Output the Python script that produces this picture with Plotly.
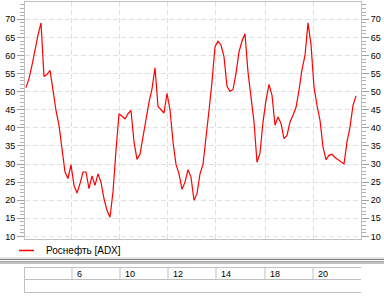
import plotly.graph_objects as go

# ADX values, evenly spaced samples
adx = [51.1, 53.6, 57.3, 61.6, 65.6, 69.0, 54.2, 54.8, 55.9, 50.4,
       44.8, 40.7, 34.7, 27.8, 26.0, 29.8, 24.1, 22.0, 24.6, 27.8,
       27.8, 23.2, 26.7, 24.1, 27.3, 25.0, 20.4, 17.2, 15.3, 22.3,
       33.8, 43.9, 43.2, 42.5, 43.9, 44.8, 36.1, 31.3, 32.7, 37.5,
       42.5, 47.1, 50.8, 56.6, 45.9, 45.0, 44.1, 49.5, 45.0, 36.1,
       29.9, 27.3, 23.0, 25.0, 28.4, 26.4, 20.0, 21.8, 27.3, 29.9,
       38.4, 44.8, 52.7, 62.4, 63.9, 62.9, 59.6, 51.5, 50.1, 50.6,
       55.0, 61.0, 64.0, 66.0, 55.4, 48.0, 41.6, 30.5, 33.0, 41.6,
       47.6, 52.0, 49.0, 40.7, 43.0, 41.2, 37.0, 37.9, 41.6, 43.5,
       45.6, 50.4, 56.1, 60.0, 69.0, 63.0, 51.3, 46.2, 42.1, 34.7,
       31.2, 32.4, 32.7, 31.8, 31.2, 30.5, 30.0, 36.1, 40.2, 46.2,
       48.8]
idx = list(range(len(adx)))

time_labels = ["6", "10", "12", "14", "18", "20"]
time_pos = [15.33, 31.33, 47.33, 63.33, 79.67, 95.67]
legend_name = "Роснефть [ADX]"

W, H = 384, 298
L, R, T, B = 25, 23, 2, 59
pw, ph = W - L - R, H - T - B

def px(x):
    return (x - L) / pw

def py(y):
    return (H - B - y) / ph

fig = go.Figure()
fig.add_trace(go.Scatter(x=idx, y=adx, mode="lines", name=legend_name,
                         line=dict(color="#ff0000", width=1.2),
                         showlegend=False, hoverinfo="skip"))
fig.add_trace(go.Scatter(x=idx, y=adx, mode="lines", yaxis="y2",
                         line=dict(color="rgba(0,0,0,0)", width=0),
                         showlegend=False, hoverinfo="skip"))

font = dict(family="Liberation Sans, Arial, sans-serif", size=9, color="#000000")
grid = dict(showgrid=True, gridcolor="#e0e0e0", griddash="5px,3px", gridwidth=1)

yax = dict(range=[9.28, 74.78], dtick=5, tick0=0, ticks="outside", ticklen=7,
           tickcolor="#a0a0a0", tickfont=font, showline=True, linecolor="#c0c0c0",
           linewidth=1, zeroline=False, fixedrange=True,
           minor=dict(dtick=1, ticks="outside", ticklen=4, tickcolor="#b0b0b0", showgrid=False),
           **grid)
fig.update_layout(
    width=W, height=H, margin=dict(l=L, r=R, t=T, b=B),
    paper_bgcolor="white", plot_bgcolor="white",
    xaxis=dict(range=[-0.333, 111.667], tickvals=time_pos, showticklabels=False,
               ticks="", showline=True, linecolor="#c0c0c0", mirror=True,
               zeroline=False, **grid),
    yaxis=yax,
    yaxis2=dict(overlaying="y", side="right", range=[9.28, 74.78], dtick=5, tick0=0,
                ticks="outside", ticklen=7, tickcolor="#a0a0a0", tickfont=font,
                showline=True, linecolor="#c0c0c0", showgrid=False, zeroline=False,
                minor=dict(dtick=1, ticks="outside", ticklen=4, tickcolor="#b0b0b0")),
    font=font,
)

shapes = []
# legend sample line
shapes.append(dict(type="line", xref="paper", yref="paper", x0=px(19), x1=px(34),
                   y0=py(250.5), y1=py(250.5), line=dict(color="#ff0000", width=1.5)))
# splitter
for yy, c in [(258, "#c8c8c8"), (259.5, "#808080"), (261.5, "#a8a8a8"), (263, "#808080")]:
    shapes.append(dict(type="line", xref="paper", yref="paper", x0=px(0), x1=px(384),
                       y0=py(yy), y1=py(yy), line=dict(color=c, width=1)))
# table
tc = "#c0c0c0"
for yy in [267.5, 279.5, 292.5]:
    shapes.append(dict(type="line", xref="paper", yref="paper", x0=px(24.5), x1=px(361),
                       y0=py(yy), y1=py(yy), line=dict(color=tc, width=1)))
shapes.append(dict(type="line", xref="paper", yref="paper", x0=px(24.5), x1=px(24.5),
                   y0=py(267.5), y1=py(292.5), line=dict(color=tc, width=1)))
for tp in time_pos:
    shapes.append(dict(type="line", xref="x", yref="paper", x0=tp, x1=tp,
                       y0=py(267.5), y1=py(279.5), line=dict(color=tc, width=1)))
fig.update_layout(shapes=shapes)

ann = [dict(text=legend_name, xref="paper", yref="paper", x=px(44), y=py(250.5),
            xanchor="left", yanchor="middle", showarrow=False,
            font=dict(family="Liberation Sans, Arial, sans-serif", size=10, color="#000"))]
for tp, lab in zip(time_pos, time_labels):
    ann.append(dict(text=lab, xref="x", yref="paper", x=tp, xshift=3, y=py(273.5),
                    xanchor="left", yanchor="middle", showarrow=False, font=font))
fig.update_layout(annotations=ann)

fig.write_html("out.html", config={"displayModeBar": False})
